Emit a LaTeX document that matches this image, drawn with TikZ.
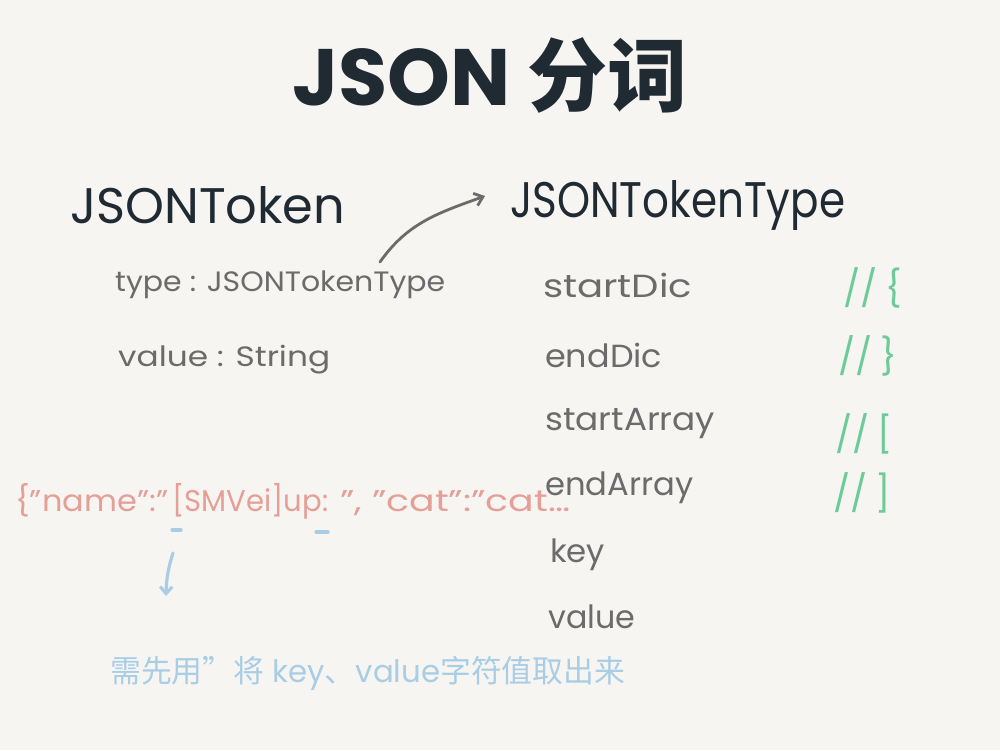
\documentclass[tikz,border=0pt]{standalone}
\usepackage{fontspec}
\usepackage{graphicx}
\setmainfont{Poppins}
\newfontfamily\cjk{Noto Sans CJK SC}
\usetikzlibrary{arrows.meta}
\definecolor{bg}{HTML}{F6F5F2}
\definecolor{ink}{HTML}{1F2A33}
\definecolor{grayink}{HTML}{6B6B6B}
\definecolor{pinkink}{HTML}{E59F97}
\definecolor{greenink}{HTML}{6DCB98}
\definecolor{blueink}{HTML}{A8CDE5}
\newcommand{\fitw}[2]{\resizebox{#1pt}{\height}{#2}}
\tikzset{
  heading/.style={anchor=west, inner sep=0pt, text=ink, font=\fontsize{50}{56}\selectfont},
  field/.style={anchor=west, inner sep=0pt, text=grayink, font=\fontsize{28}{32}\selectfont},
  member/.style={anchor=west, inner sep=0pt, text=grayink, font=\fontsize{32}{36}\selectfont},
  comment/.style={anchor=west, inner sep=0pt, text=greenink, font=\fontsize{36}{40}\selectfont},
  pinktext/.style={anchor=base west, inner sep=0pt, text=pinkink, font=\fontsize{30}{34}\selectfont},
  bluetext/.style={anchor=west, inner sep=0pt, text=blueink, font=\fontsize{31}{36}\selectfont},
  graypen/.style={draw=grayink, line width=2.8pt, line cap=round, -{Straight Barb[length=8pt,width=13pt,line width=2.8pt]}},
  bluepen/.style={draw=blueink, line width=3.2pt, line cap=round},
}
\begin{document}
\begin{tikzpicture}[x=1pt,y=-1pt]
\fill[bg] (0,0) rectangle (1000,750);
\useasboundingbox (0,0) rectangle (1000,750);
% title
\node[anchor=center, inner sep=0pt, text=ink, font=\fontsize{80}{86}\selectfont\bfseries] (title) at (490,75) {JSON {\cjk 分词}};
% headings
\node[heading] (tok) at (70,205) {\fitw{275}{JSONToken}};
\node[heading] (toktype) at (510,205) {\fitw{335}{JSONTokenType}};
% fields
\node[field] (typeline) at (115,285) {\fitw{330}{type : JSONTokenType}};
\node[field] (valueline) at (118,360) {\fitw{212}{value : String}};
% members
\node[member] (m1) at (543,285) {\fitw{149}{startDic}};
\node[member] (m2) at (545,355) {\fitw{117}{endDic}};
\node[member] (m3) at (545,424) {\fitw{170}{startArray}};
\node[member] (m4) at (545,488) {\fitw{148}{endArray}};
\node[member] (m5) at (550,555) {\fitw{55}{key}};
\node[member] (m6) at (548,617) {\fitw{87}{value}};
% comments
\node[comment] (c1) at (843,288) {//\hspace{8pt}\{};
\node[comment] (c2) at (838,356) {//\hspace{8pt}\}};
\node[comment] (c3) at (835,434) {//\hspace{8pt}[};
\node[comment] (c4) at (833,493) {//\hspace{8pt}]};
% arrow
\coordinate (aS) at (380,262);
\coordinate (aE) at (485,196);
\draw[graypen] (aS) to[out=55, in=200] (aE);
% pink example
\node[pinktext] (p1) at (15,511) {\fitw{153}{\{"name":"}};
\node[pinktext] (p2) at (172,511) {\fitw{156}{[SMVei]up:}};
\node[pinktext] (p3) at (340,511) {\fitw{230}{", "cat":"cat\dots}};
% blue marks
\coordinate (d1a) at (172,530); \coordinate (d1b) at (181,530);
\coordinate (d2a) at (316,532); \coordinate (d2b) at (328,532);
\draw[bluepen] (d1a) -- (d1b);
\draw[bluepen] (d2a) -- (d2b);
\coordinate (bS) at (173,553);
\coordinate (bE) at (166,596);
\draw[bluepen, -{Straight Barb[length=7pt,width=12pt,line width=3pt]}] (bS) to[bend right=8] (bE);
% blue note
\node[bluetext] (note) at (110,673) {\fitw{515}{{\cjk 需先用”将} key{\cjk 、}value{\cjk 字符值取出来}}};
\end{tikzpicture}
\end{document}
